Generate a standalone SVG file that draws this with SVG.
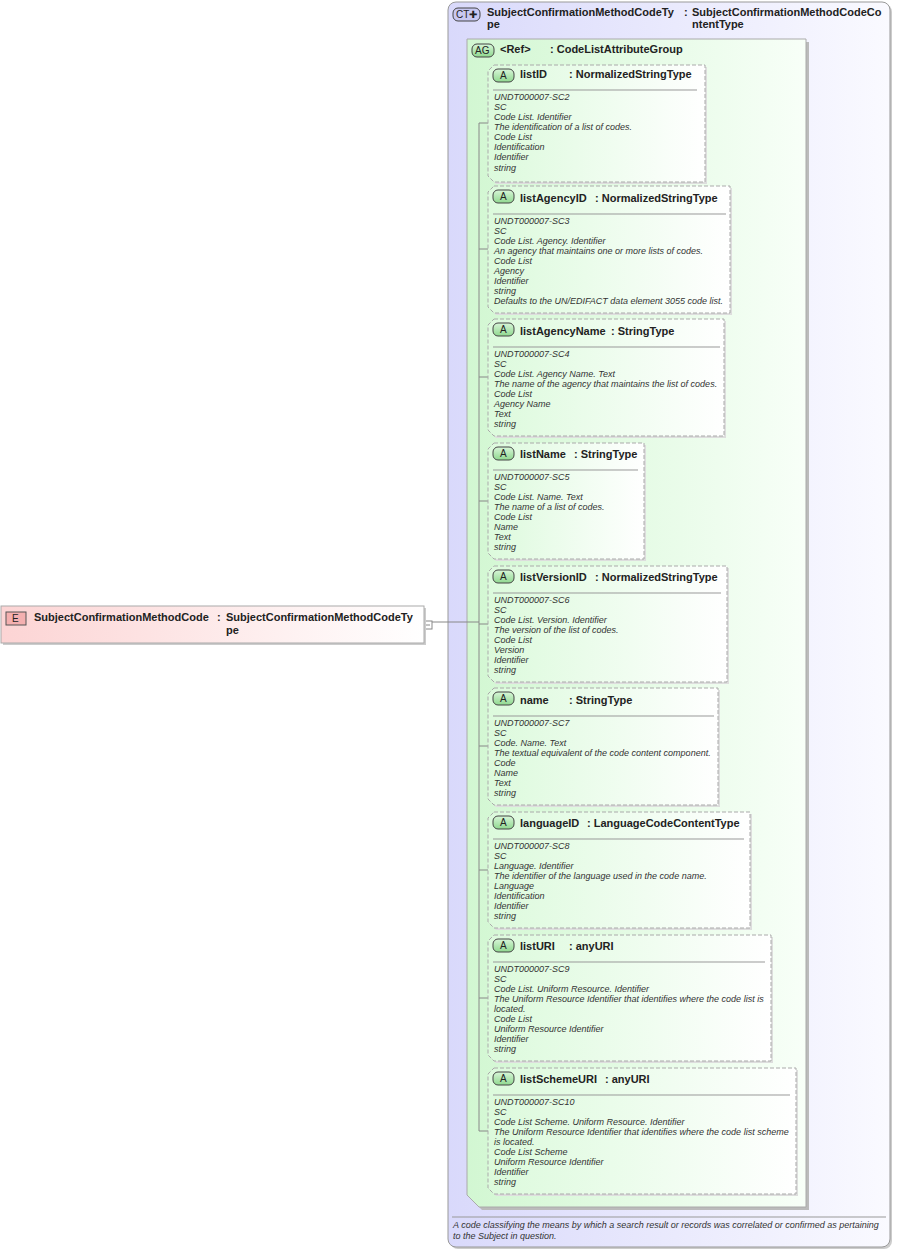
<svg xmlns="http://www.w3.org/2000/svg" width="897" height="1250" viewBox="0 0 897 1250">
<defs>
<linearGradient id="gCT" x1="0" y1="0" x2="1" y2="0"><stop offset="0" stop-color="#d9d9fb"/><stop offset="1" stop-color="#fafaff"/></linearGradient>
<linearGradient id="gAG" x1="0" y1="0" x2="1" y2="0"><stop offset="0" stop-color="#d2f7d2"/><stop offset="1" stop-color="#f8fff8"/></linearGradient>
<linearGradient id="gA" x1="0" y1="0" x2="1" y2="0"><stop offset="0" stop-color="#dcfadc"/><stop offset="1" stop-color="#ffffff"/></linearGradient>
<linearGradient id="gE" x1="0" y1="0" x2="1" y2="0"><stop offset="0" stop-color="#fcd4d4"/><stop offset="1" stop-color="#ffffff"/></linearGradient>
<linearGradient id="gBadge" x1="0" y1="0" x2="0" y2="1"><stop offset="0" stop-color="#d8f6d8"/><stop offset="1" stop-color="#8fd88f"/></linearGradient>
</defs>
<style>
text{font-family:"Liberation Sans",Arial,sans-serif;fill:#222}
.h{font-size:11px;font-weight:bold}
.d{font-size:9px;font-style:italic;fill:#333}
.att{fill:url(#gA);stroke:#aaa;stroke-dasharray:4,2;stroke-width:1}
.sep{stroke:#999;stroke-width:1}
.badge{fill:url(#gBadge);stroke:#444;stroke-width:1}
.bt{font-size:10px;fill:#222}
.con{stroke:#888;stroke-width:1;fill:none}
</style>
<g id="ct">
<rect x="450" y="4" width="442" height="1245" rx="8" fill="#ccc"/>
<rect x="448" y="2" width="442" height="1245" rx="8" fill="url(#gCT)" stroke="#999"/>
<rect x="453" y="8" width="27" height="13" rx="5" fill="#c8c8f2" stroke="#444"/>
<text x="456" y="18" class="bt">CT</text><text x="469" y="18" class="bt" fill="#44a">✚</text>
<text x="487" y="16" class="h">SubjectConfirmationMethodCodeTy</text>
<text x="487" y="28" class="h">pe</text>
<text x="684" y="16" class="h">:</text>
<text x="692" y="16" class="h">SubjectConfirmationMethodCodeCo</text>
<text x="692" y="28" class="h">ntentType</text>
<line x1="452" y1="1217" x2="886" y2="1217" class="sep"/>
<text x="453" y="1228" class="d">A code classifying the means by which a search result or records was correlated or confirmed as pertaining</text>
<text x="453" y="1239" class="d">to the Subject in question.</text>
</g>
<g id="ag">
<path d="M470 42 H809 V1210 H482 L470 1198 Z" fill="#bbb"/>
<path d="M467 39 H806 V1207 H479 L467 1195 Z" fill="url(#gAG)" stroke="#aaa"/>
<rect x="472" y="44" width="22" height="13" rx="5" class="badge"/>
<text x="475" y="54" class="bt">AG</text>
<text x="500" y="53" class="h">&lt;Ref&gt;</text>
<text x="550" y="53" class="h">: CodeListAttributeGroup</text>
</g>
<g id="connectors">
<rect x="424" y="621" width="8" height="8" fill="#fff" stroke="#888"/>
<line x1="426" y1="625" x2="430" y2="625" stroke="#888"/>
<path d="M432 622 H479" class="con"/>
<path d="M479 123 V1131" class="con"/>
<path d="M479 123 H488 M479 249 H488 M479 377 H488 M479 501 H488 M479 624 H488 M479 746 H488 M479 870 H488 M479 998 H488 M479 1131 H488" class="con"/>
</g>
<g id="e">
<rect x="3" y="608" width="423" height="37" fill="#ccc"/>
<rect x="1" y="606" width="423" height="37" fill="url(#gE)" stroke="#aaa"/>
<rect x="6" y="612" width="20" height="13" fill="#f4b0b0" stroke="#555"/>
<text x="12" y="622" class="bt">E</text>
<text x="34" y="621" class="h">SubjectConfirmationMethodCode</text>
<text x="217" y="621" class="h">:</text>
<text x="226" y="621" class="h">SubjectConfirmationMethodCodeTy</text>
<text x="226" y="634" class="h">pe</text>
</g>
<g id="a1" transform="translate(488,65)">
<path d="M8 2 H219 V119 H8 L2 113 V8 Z" fill="#ddd"/>
<path d="M6 0 H217 V117 H6 L0 111 V6 Z" class="att"/>
<rect x="5" y="4" width="21" height="13" rx="5" class="badge"/><text x="12" y="14" class="bt">A</text>
<text x="32" y="13" class="h">listID</text><text x="81" y="13" class="h">: NormalizedStringType</text>
<line x1="5" y1="25" x2="209" y2="25" class="sep"/>
<text class="d" x="6" y="35">UNDT000007-SC2</text><text class="d" x="6" y="45">SC</text><text class="d" x="6" y="55">Code List. Identifier</text><text class="d" x="6" y="65">The identification of a list of codes.</text><text class="d" x="6" y="75">Code List</text><text class="d" x="6" y="85">Identification</text><text class="d" x="6" y="95">Identifier</text><text class="d" x="6" y="106">string</text>
</g>
<g id="a2" transform="translate(488,186)">
<path d="M8 2 H244 V129 H8 L2 123 V8 Z" fill="#ddd"/>
<path d="M6 0 H242 V127 H6 L0 121 V6 Z" class="att"/>
<rect x="5" y="4" width="21" height="13" rx="5" class="badge"/><text x="12" y="14" class="bt">A</text>
<text x="32" y="16" class="h">listAgencyID</text><text x="107" y="16" class="h">: NormalizedStringType</text>
<line x1="5" y1="28" x2="238" y2="28" class="sep"/>
<text class="d" x="6" y="38">UNDT000007-SC3</text><text class="d" x="6" y="48">SC</text><text class="d" x="6" y="58">Code List. Agency. Identifier</text><text class="d" x="6" y="68">An agency that maintains one or more lists of codes.</text><text class="d" x="6" y="78">Code List</text><text class="d" x="6" y="88">Agency</text><text class="d" x="6" y="98">Identifier</text><text class="d" x="6" y="108">string</text><text class="d" x="6" y="118">Defaults to the UN/EDIFACT data element 3055 code list.</text>
</g>
<g id="a3" transform="translate(488,319)">
<path d="M8 2 H238 V119 H8 L2 113 V8 Z" fill="#ddd"/>
<path d="M6 0 H236 V117 H6 L0 111 V6 Z" class="att"/>
<rect x="5" y="4" width="21" height="13" rx="5" class="badge"/><text x="12" y="14" class="bt">A</text>
<text x="32" y="16" class="h">listAgencyName</text><text x="123" y="16" class="h">: StringType</text>
<line x1="5" y1="28" x2="232" y2="28" class="sep"/>
<text class="d" x="6" y="38">UNDT000007-SC4</text><text class="d" x="6" y="48">SC</text><text class="d" x="6" y="58">Code List. Agency Name. Text</text><text class="d" x="6" y="68">The name of the agency that maintains the list of codes.</text><text class="d" x="6" y="78">Code List</text><text class="d" x="6" y="88">Agency Name</text><text class="d" x="6" y="98">Text</text><text class="d" x="6" y="108">string</text>
</g>
<g id="a4" transform="translate(488,443)">
<path d="M8 2 H158 V118 H8 L2 112 V8 Z" fill="#ddd"/>
<path d="M6 0 H156 V116 H6 L0 110 V6 Z" class="att"/>
<rect x="5" y="4" width="21" height="13" rx="5" class="badge"/><text x="12" y="14" class="bt">A</text>
<text x="32" y="15" class="h">listName</text><text x="86" y="15" class="h">: StringType</text>
<line x1="5" y1="27" x2="150" y2="27" class="sep"/>
<text class="d" x="6" y="37">UNDT000007-SC5</text><text class="d" x="6" y="47">SC</text><text class="d" x="6" y="57">Code List. Name. Text</text><text class="d" x="6" y="67">The name of a list of codes.</text><text class="d" x="6" y="77">Code List</text><text class="d" x="6" y="87">Name</text><text class="d" x="6" y="97">Text</text><text class="d" x="6" y="107">string</text>
</g>
<g id="a5" transform="translate(488,566)">
<path d="M8 2 H241 V118 H8 L2 112 V8 Z" fill="#ddd"/>
<path d="M6 0 H239 V116 H6 L0 110 V6 Z" class="att"/>
<rect x="5" y="4" width="21" height="13" rx="5" class="badge"/><text x="12" y="14" class="bt">A</text>
<text x="32" y="15" class="h">listVersionID</text><text x="107" y="15" class="h">: NormalizedStringType</text>
<line x1="5" y1="27" x2="233" y2="27" class="sep"/>
<text class="d" x="6" y="37">UNDT000007-SC6</text><text class="d" x="6" y="47">SC</text><text class="d" x="6" y="57">Code List. Version. Identifier</text><text class="d" x="6" y="67">The version of the list of codes.</text><text class="d" x="6" y="77">Code List</text><text class="d" x="6" y="87">Version</text><text class="d" x="6" y="97">Identifier</text><text class="d" x="6" y="107">string</text>
</g>
<g id="a6" transform="translate(488,688)">
<path d="M8 2 H232 V119 H8 L2 113 V8 Z" fill="#ddd"/>
<path d="M6 0 H230 V117 H6 L0 111 V6 Z" class="att"/>
<rect x="5" y="4" width="21" height="13" rx="5" class="badge"/><text x="12" y="14" class="bt">A</text>
<text x="32" y="16" class="h">name</text><text x="81" y="16" class="h">: StringType</text>
<line x1="5" y1="28" x2="226" y2="28" class="sep"/>
<text class="d" x="6" y="38">UNDT000007-SC7</text><text class="d" x="6" y="48">SC</text><text class="d" x="6" y="58">Code. Name. Text</text><text class="d" x="6" y="68">The textual equivalent of the code content component.</text><text class="d" x="6" y="78">Code</text><text class="d" x="6" y="88">Name</text><text class="d" x="6" y="98">Text</text><text class="d" x="6" y="108">string</text>
</g>
<g id="a7" transform="translate(488,812)">
<path d="M8 2 H264 V118 H8 L2 112 V8 Z" fill="#ddd"/>
<path d="M6 0 H262 V116 H6 L0 110 V6 Z" class="att"/>
<rect x="5" y="4" width="21" height="13" rx="5" class="badge"/><text x="12" y="14" class="bt">A</text>
<text x="32" y="15" class="h">languageID</text><text x="99" y="15" class="h">: LanguageCodeContentType</text>
<line x1="5" y1="27" x2="256" y2="27" class="sep"/>
<text class="d" x="6" y="37">UNDT000007-SC8</text><text class="d" x="6" y="47">SC</text><text class="d" x="6" y="57">Language. Identifier</text><text class="d" x="6" y="67">The identifier of the language used in the code name.</text><text class="d" x="6" y="77">Language</text><text class="d" x="6" y="87">Identification</text><text class="d" x="6" y="97">Identifier</text><text class="d" x="6" y="107">string</text>
</g>
<g id="a8" transform="translate(488,935)">
<path d="M8 2 H285 V128 H8 L2 122 V8 Z" fill="#ddd"/>
<path d="M6 0 H283 V126 H6 L0 120 V6 Z" class="att"/>
<rect x="5" y="4" width="21" height="13" rx="5" class="badge"/><text x="12" y="14" class="bt">A</text>
<text x="32" y="15" class="h">listURI</text><text x="81" y="15" class="h">: anyURI</text>
<line x1="5" y1="27" x2="277" y2="27" class="sep"/>
<text class="d" x="6" y="37">UNDT000007-SC9</text><text class="d" x="6" y="47">SC</text><text class="d" x="6" y="57">Code List. Uniform Resource. Identifier</text><text class="d" x="6" y="67">The Uniform Resource Identifier that identifies where the code list is</text><text class="d" x="6" y="77">located.</text><text class="d" x="6" y="87">Code List</text><text class="d" x="6" y="97">Uniform Resource Identifier</text><text class="d" x="6" y="107">Identifier</text><text class="d" x="6" y="117">string</text>
</g>
<g id="a9" transform="translate(488,1068)">
<path d="M8 2 H310 V128 H8 L2 122 V8 Z" fill="#ddd"/>
<path d="M6 0 H308 V126 H6 L0 120 V6 Z" class="att"/>
<rect x="5" y="4" width="21" height="13" rx="5" class="badge"/><text x="12" y="14" class="bt">A</text>
<text x="32" y="15" class="h">listSchemeURI</text><text x="117" y="15" class="h">: anyURI</text>
<line x1="5" y1="27" x2="302" y2="27" class="sep"/>
<text class="d" x="6" y="37">UNDT000007-SC10</text><text class="d" x="6" y="47">SC</text><text class="d" x="6" y="57">Code List Scheme. Uniform Resource. Identifier</text><text class="d" x="6" y="67">The Uniform Resource Identifier that identifies where the code list scheme</text><text class="d" x="6" y="77">is located.</text><text class="d" x="6" y="87">Code List Scheme</text><text class="d" x="6" y="97">Uniform Resource Identifier</text><text class="d" x="6" y="107">Identifier</text><text class="d" x="6" y="117">string</text>
</g>
</svg>
